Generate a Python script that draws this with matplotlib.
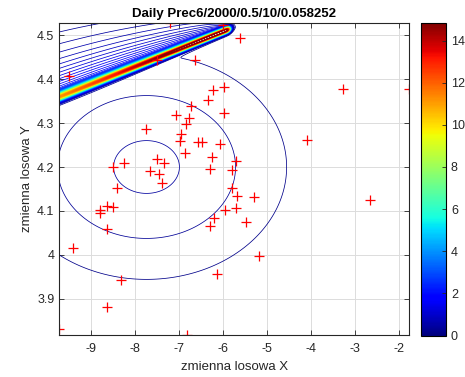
import numpy as np
import matplotlib
matplotlib.use("Agg")
import matplotlib.pyplot as plt
from matplotlib import colors, cm

plt.rcParams['font.family'] = ['Liberation Sans', 'DejaVu Sans']

# ---- data ----
pts_x = [-7.21, -9.51, -7.51, -6.64, -6.23, -5.98, -6.34, -6.72, -7.075, -5.98,
         -6.77, -6.85, -7.74, -6.00, -5.62, -3.27, -1.78, -6.95, -6.97, -6.57,
         -6.49, -6.08, -6.87, -6.26, -5.71, -6.29, -5.79, -8.26, -8.51, -7.50,
         -7.35, -7.65, -7.45, -7.38, -8.42, -5.79, -5.68, -8.64, -8.50, -8.80,
         -8.79, -5.96, -5.71, -6.20, -6.30, -8.63, -9.42, -4.09, -5.30, -2.67,
         -5.47, -8.31, -8.64, -9.72, -6.82, -6.14, -5.18]
pts_y = [4.529, 4.408, 4.444, 4.445, 4.376, 4.382, 4.353, 4.338, 4.319, 4.324,
         4.311, 4.298, 4.287, 4.523, 4.495, 4.378, 4.378, 4.276, 4.260, 4.257,
         4.257, 4.252, 4.232, 4.223, 4.213, 4.195, 4.194, 4.209, 4.200, 4.218,
         4.209, 4.192, 4.185, 4.164, 4.152, 4.151, 4.135, 4.112, 4.109, 4.103,
         4.095, 4.103, 4.107, 4.084, 4.065, 4.059, 4.015, 4.262, 4.131, 4.124,
         4.075, 3.942, 3.881, 3.830, 3.817, 3.956, 3.997]

x_ticks = [-9, -8, -7, -6, -5, -4, -3, -2]
y_ticks = [3.9, 4.0, 4.1, 4.2, 4.3, 4.4, 4.5]
y_ticklabels = ['3.9', '4', '4.1', '4.2', '4.3', '4.4', '4.5']
cbar_ticks = [0, 2, 4, 6, 8, 10, 12, 14]

title = 'Daily Prec6/2000/0.5/10/0.058252'
xlabel = 'zmienna losowa X'
ylabel = 'zmienna losowa Y'

x_lim = (-9.72, -1.78)
y_lim = (3.817, 4.529)
z_max = 14.85
n_levels = 100

# density surface parameters (estimated from the contour shapes)
blob_center = (-7.74, 4.20)
blob_peak = 0.475
blob_sigma = (2.086, 0.168)

ridge_start = (-9.72, 4.36)
ridge_slope = 0.040
ridge_tip_x = -5.85
ridge_amp = (8.5, 14.5)
ridge_core_w = (0.009, 0.006)
tail_amp = 2.6
tail_w = 0.062

# ---- surface ----
gx = np.linspace(x_lim[0], x_lim[1], 1000)
gy = np.linspace(y_lim[0], y_lim[1], 900)
X, Y = np.meshgrid(gx, gy)

s = np.clip((X - ridge_start[0]) / (ridge_tip_x - ridge_start[0]), 0, 1)
yc = ridge_start[1] + ridge_slope * (X - ridge_start[0])
d = Y - yc
A = ridge_amp[0] + (ridge_amp[1] - ridge_amp[0]) * s
w1 = ridge_core_w[0] + (ridge_core_w[1] - ridge_core_w[0]) * s
core = A * np.exp(-(d / w1) ** 2)
w2 = tail_w * np.sqrt(1 - s) + 1e-4
tail = np.where(d > 0, tail_amp * np.exp(-np.clip(d, 0, None) / w2),
                tail_amp * np.exp(-(d / w1) ** 2))
taper = 0.5 * (1 - np.tanh((X - ridge_tip_x) / 0.05))
ridge = (core + tail) * taper
blob = blob_peak * np.exp(-0.5 * ((X - blob_center[0]) / blob_sigma[0]) ** 2
                          - 0.5 * ((Y - blob_center[1]) / blob_sigma[1]) ** 2)
Z = ridge + blob

levels = np.linspace(0, z_max, n_levels + 1)[1:-1]

# ---- figure ----
fig = plt.figure(figsize=(4.65, 3.77), dpi=100)
ax = fig.add_axes([0.1275, 0.1114, 0.7521, 0.8284])
cax = fig.add_axes([0.9054, 0.1100, 0.0538, 0.8300])

norm = colors.Normalize(vmin=0, vmax=z_max)
ax.contour(X, Y, Z, levels=levels, cmap='jet', norm=norm, linewidths=0.55)
ax.plot(pts_x, pts_y, '+', color='red', ms=6.5, mew=0.9)

ax.set_xlim(*x_lim)
ax.set_ylim(*y_lim)
ax.set_xticks(x_ticks)
ax.set_xticklabels([str(t) for t in x_ticks])
ax.set_yticks(y_ticks)
ax.set_yticklabels(y_ticklabels)
ax.grid(True, color='#dcdcdc', lw=0.7)
ax.set_axisbelow(True)
ax.tick_params(direction='in', top=True, right=True, length=3.5, width=0.6,
               labelsize=9, colors='#262626')
ax.tick_params(axis='x', pad=6)
for sp in ax.spines.values():
    sp.set_linewidth(0.8)
    sp.set_color('#262626')
ax.set_title(title, fontsize=9.5, fontweight='bold', pad=4)
ax.set_xlabel(xlabel, fontsize=9.5, color='#262626', labelpad=4)
ax.set_ylabel(ylabel, fontsize=9.5, color='#262626', labelpad=3)

cb = fig.colorbar(cm.ScalarMappable(norm=norm, cmap='jet'), cax=cax, ticks=cbar_ticks)
cb.ax.tick_params(direction='in', length=3, width=0.6, labelsize=9, colors='#262626')
cb.outline.set_linewidth(0.8)

fig.savefig('out.png', dpi=100)
